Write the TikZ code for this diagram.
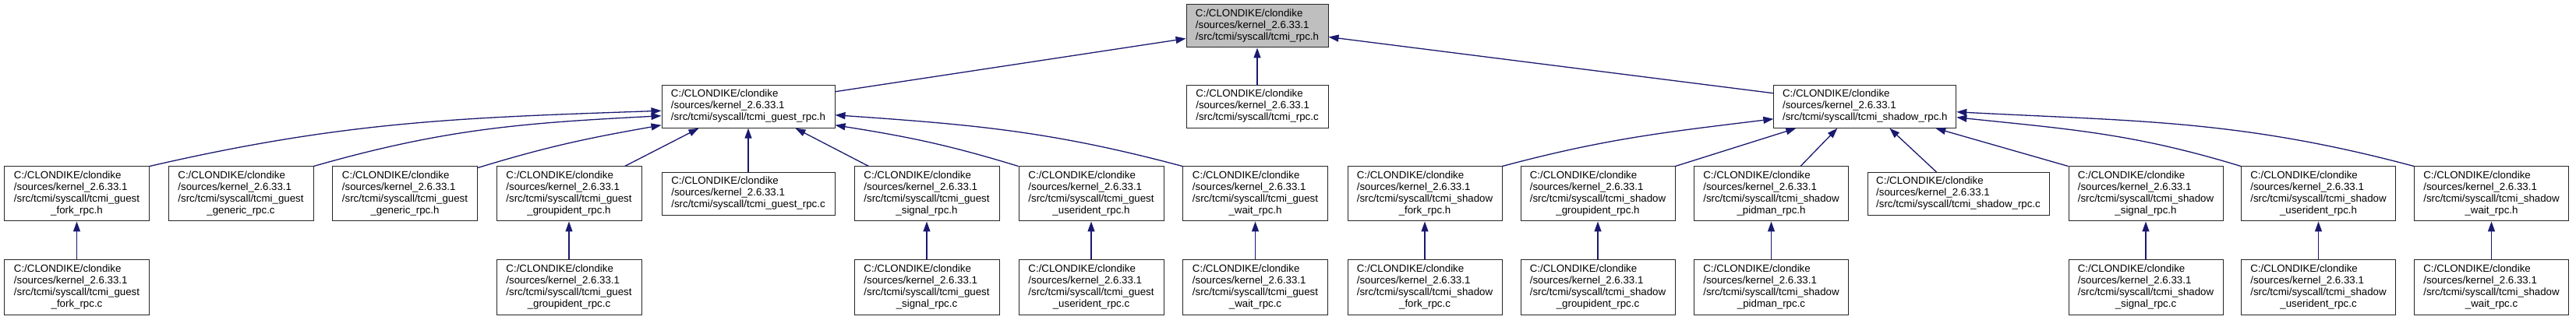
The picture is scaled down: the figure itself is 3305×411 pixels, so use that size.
\documentclass[tikz,border=0pt]{standalone}
\usepackage{fontspec}
\setmainfont{Liberation Sans}
\usetikzlibrary{arrows.meta}
\definecolor{edgeblue}{HTML}{191970}
\definecolor{rootgray}{HTML}{BFBFBF}
\newcommand{\lblthree}[1]{\begin{tabular}{@{}l@{}}C:/CLONDIKE/clondike\\/sources/kernel\_2.6.33.1\\#1\end{tabular}}
\newcommand{\lblfour}[2]{\begin{tabular}{@{}l@{}}C:/CLONDIKE/clondike\\/sources/kernel\_2.6.33.1\\#1\\\multicolumn{1}{@{}c@{}}{#2}\end{tabular}}
\tikzset{
  filebox/.style={draw=black!85, line width=1pt, inner sep=0pt, fill=white,
    font=\fontsize{13.3}{15}\selectfont, minimum height=70pt},
  gbox/.style={filebox, minimum width=186pt},
  sbox/.style={filebox, minimum width=198pt},
  flat/.style={minimum height=55pt},
  rootbox/.style={filebox, fill=rootgray},
  dep/.style={draw=edgeblue, line width=1.3pt, -{Triangle[length=13pt,width=9pt]}}
}
\begin{document}
\begin{tikzpicture}[x=1pt,y=1pt]
\useasboundingbox (0,0) rectangle (3305,-411);
% level 0
\node[rootbox, flat, minimum width=182pt] (R) at (1613,-33.5) {\lblthree{/src/tcmi/syscall/tcmi\_rpc.h}};
% level 1
\node[filebox, flat, minimum width=222pt] (G) at (960,-136.75) {\lblthree{/src/tcmi/syscall/tcmi\_guest\_rpc.h}};
\node[filebox, flat, minimum width=182pt] (RC) at (1613,-136.75) {\lblthree{/src/tcmi/syscall/tcmi\_rpc.c}};
\node[filebox, flat, minimum width=234pt] (S) at (2392.8,-136.75) {\lblthree{/src/tcmi/syscall/tcmi\_shadow\_rpc.h}};
% level 2 guest
\node[gbox] (gfh) at (98.5,-249) {\lblfour{/src/tcmi/syscall/tcmi\_guest}{\_fork\_rpc.h}};
\node[gbox] (ggc) at (309,-249) {\lblfour{/src/tcmi/syscall/tcmi\_guest}{\_generic\_rpc.c}};
\node[gbox] (ggh) at (519.5,-249) {\lblfour{/src/tcmi/syscall/tcmi\_guest}{\_generic\_rpc.h}};
\node[gbox] (ggih) at (730,-249) {\lblfour{/src/tcmi/syscall/tcmi\_guest}{\_groupident\_rpc.h}};
\node[filebox, flat, minimum width=222pt] (grc) at (960,-249) {\lblthree{/src/tcmi/syscall/tcmi\_guest\_rpc.c}};
\node[gbox] (gsh) at (1189,-249) {\lblfour{/src/tcmi/syscall/tcmi\_guest}{\_signal\_rpc.h}};
\node[gbox] (guh) at (1400,-249) {\lblfour{/src/tcmi/syscall/tcmi\_guest}{\_userident\_rpc.h}};
\node[gbox] (gwh) at (1610.5,-249) {\lblfour{/src/tcmi/syscall/tcmi\_guest}{\_wait\_rpc.h}};
% level 2 shadow
\node[sbox] (sfh) at (1828,-249) {\lblfour{/src/tcmi/syscall/tcmi\_shadow}{\_fork\_rpc.h}};
\node[sbox] (sgih) at (2050,-249) {\lblfour{/src/tcmi/syscall/tcmi\_shadow}{\_groupident\_rpc.h}};
\node[sbox] (sph) at (2272.5,-249) {\lblfour{/src/tcmi/syscall/tcmi\_shadow}{\_pidman\_rpc.h}};
\node[filebox, flat, minimum width=233pt] (src) at (2512.5,-249) {\lblthree{/src/tcmi/syscall/tcmi\_shadow\_rpc.c}};
\node[sbox] (ssh) at (2753,-249) {\lblfour{/src/tcmi/syscall/tcmi\_shadow}{\_signal\_rpc.h}};
\node[sbox] (suh) at (2974.5,-249) {\lblfour{/src/tcmi/syscall/tcmi\_shadow}{\_userident\_rpc.h}};
\node[sbox] (swh) at (3196.5,-249) {\lblfour{/src/tcmi/syscall/tcmi\_shadow}{\_wait\_rpc.h}};
% level 3
\node[gbox] (gfc) at (98.5,-369) {\lblfour{/src/tcmi/syscall/tcmi\_guest}{\_fork\_rpc.c}};
\node[gbox] (ggic) at (730,-369) {\lblfour{/src/tcmi/syscall/tcmi\_guest}{\_groupident\_rpc.c}};
\node[gbox] (gsc) at (1189,-369) {\lblfour{/src/tcmi/syscall/tcmi\_guest}{\_signal\_rpc.c}};
\node[gbox] (guc) at (1400,-369) {\lblfour{/src/tcmi/syscall/tcmi\_guest}{\_userident\_rpc.c}};
\node[gbox] (gwc) at (1610.5,-369) {\lblfour{/src/tcmi/syscall/tcmi\_guest}{\_wait\_rpc.c}};
\node[sbox] (sfc) at (1828,-369) {\lblfour{/src/tcmi/syscall/tcmi\_shadow}{\_fork\_rpc.c}};
\node[sbox] (sgic) at (2050,-369) {\lblfour{/src/tcmi/syscall/tcmi\_shadow}{\_groupident\_rpc.c}};
\node[sbox] (spc) at (2272.5,-369) {\lblfour{/src/tcmi/syscall/tcmi\_shadow}{\_pidman\_rpc.c}};
\node[sbox] (ssc) at (2753,-369) {\lblfour{/src/tcmi/syscall/tcmi\_shadow}{\_signal\_rpc.c}};
\node[sbox] (suc) at (2974.5,-369) {\lblfour{/src/tcmi/syscall/tcmi\_shadow}{\_userident\_rpc.c}};
\node[sbox] (swc) at (3196.5,-369) {\lblfour{/src/tcmi/syscall/tcmi\_shadow}{\_wait\_rpc.c}};
% edges to root
\draw[dep] ([yshift=-9pt]G.north east) -- ([yshift=-44pt]R.north west);
\draw[dep] (RC.north) -- (R.south);
\draw[dep] ([yshift=-11pt]S.north west) -- ([yshift=-42pt]R.north east);
% edges to guest_rpc.h
\draw[dep] (gfh.north east) to[out=13,in=182] ([yshift=-33.5pt]G.north west);
\draw[dep] (ggc.north east) to[out=16,in=183] ([yshift=-40pt]G.north west);
\draw[dep] ([yshift=-2pt]ggh.north east) to[out=17,in=190] ([yshift=-52pt]G.north west);
\draw[dep] ([xshift=-22pt]ggih.north east) -- ([xshift=48pt]G.south west);
\draw[dep] (grc.north) -- (G.south);
\draw[dep] ([xshift=19pt]gsh.north west) -- ([xshift=-51pt]G.south east);
\draw[dep] (guh.north west) to[out=163,in=-9] ([yshift=-52pt]G.north east);
\draw[dep] (gwh.north west) to[out=165,in=-4] ([yshift=-39pt]G.north east);
% edges to shadow_rpc.h
\draw[dep] (sfh.north east) to[out=15,in=187] ([yshift=-44pt]S.north west);
\draw[dep] (sgih.north east) -- ([xshift=29pt]S.south west);
\draw[dep] ([xshift=-62pt]sph.north east) -- ([xshift=82pt]S.south west);
\draw[dep] ([xshift=-28pt]src.north) -- ([xshift=149pt]S.south west);
\draw[dep] (ssh.north west) -- ([xshift=-27pt]S.south east);
\draw[dep] (suh.north west) to[out=163,in=-6] ([yshift=-42pt]S.north east);
\draw[dep] (swh.north west) to[out=165,in=-3] ([yshift=-35pt]S.north east);
% level 3 edges
\draw[dep] (gfc.north) -- (gfh.south);
\draw[dep] (ggic.north) -- (ggih.south);
\draw[dep] (gsc.north) -- (gsh.south);
\draw[dep] (guc.north) -- (guh.south);
\draw[dep] (gwc.north) -- (gwh.south);
\draw[dep] (sfc.north) -- (sfh.south);
\draw[dep] (sgic.north) -- (sgih.south);
\draw[dep] (spc.north) -- (sph.south);
\draw[dep] (ssc.north) -- (ssh.south);
\draw[dep] (suc.north) -- (suh.south);
\draw[dep] (swc.north) -- (swh.south);
\end{tikzpicture}
\end{document}
